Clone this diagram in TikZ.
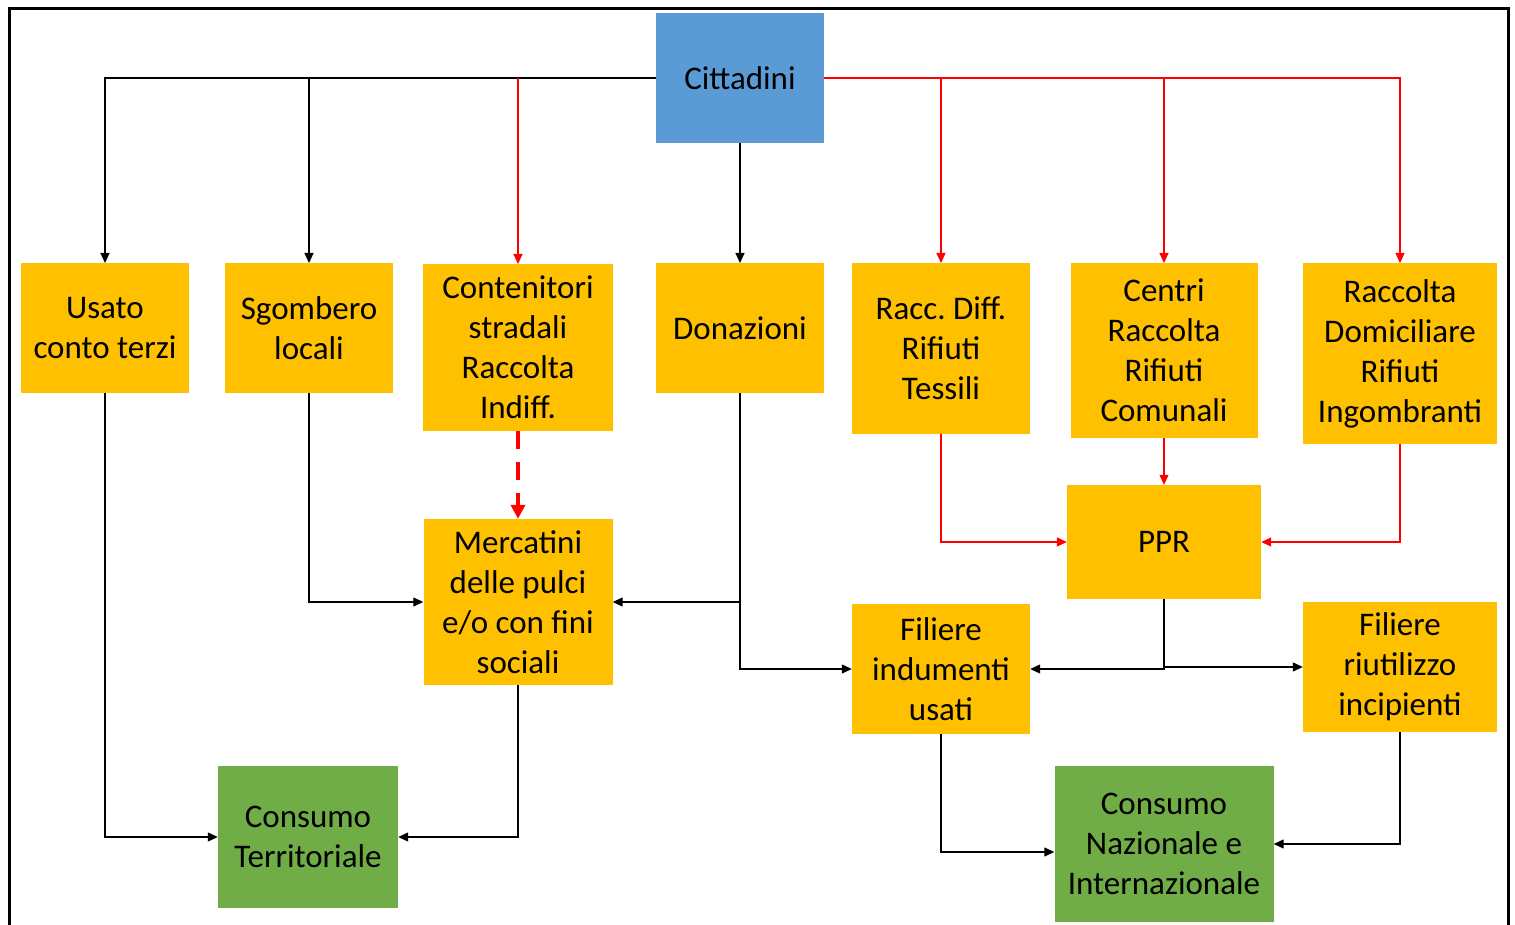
\documentclass[tikz,border=0pt]{standalone}
\usepackage{fontspec}
\setmainfont{Carlito}
\usetikzlibrary{arrows.meta}
\definecolor{boxorange}{HTML}{FFC000}
\definecolor{boxblue}{HTML}{5B9BD5}
\definecolor{boxgreen}{HTML}{70AD47}
\frenchspacing

\begin{document}
\begin{tikzpicture}[x=1pt, y=1pt, align=center, font=\fontsize{33}{40}\selectfont,
	box/.style={fill=boxorange, inner sep=0pt, minimum width=168pt, minimum height=130pt},
	bbox/.style={box, fill=boxblue},
	gbox/.style={box, fill=boxgreen},
	link/.style={line width=1.2pt, -{Triangle[length=10pt, width=9pt]}},
	rlink/.style={link, red},
	dlink/.style={red, line width=3.5pt, dash pattern=on 18pt off 13pt, -{Triangle[length=14pt, width=14pt]}}]
	\useasboundingbox (0,0) rectangle (1515,-925);
	\draw[line width=3pt] (9,-925) -- (9,-9) -- (1508,-9) -- (1508,-925);
	
	%nodes
	\node (cit)    [bbox] at (740,-78)                                                     {Cittadini};
	
	\node (usato)  [box, anchor=north] at (105,-263)                                       {Usato\\conto terzi};
	\node (sgomb)  [box, anchor=north] at (309,-263)                                       {Sgombero\\locali};
	\node (cont)   [box, anchor=north, minimum width=190pt, minimum height=167pt] at (518,-264)  {Contenitori\\stradali\\Raccolta\\Indiff.};
	\node (don)    [box, anchor=north] at (740,-263)                                       {Donazioni};
	\node (racc)   [box, anchor=north, minimum width=178pt, minimum height=171pt] at (941,-263)  {Racc. Diff.\\Rifiuti\\Tessili};
	\node (centri) [box, anchor=north, minimum width=187pt, minimum height=175pt] at (1164,-263) {Centri\\Raccolta\\Rifiuti\\Comunali};
	\node (domic)  [box, anchor=north, minimum width=194pt, minimum height=181pt] at (1400,-263) {Raccolta\\Domiciliare\\Rifiuti\\Ingombranti};
	
	\node (merc)   [box, minimum width=189pt, minimum height=166pt] at (518,-602)          {Mercatini\\delle pulci\\e/o con fini\\sociali};
	\node (ppr)    [box, minimum width=194pt, minimum height=114pt] at (1164,-542)         {PPR};
	\node (filind) [box, minimum width=178pt] at (941,-669)                                {Filiere\\indumenti\\usati};
	\node (filriu) [box, minimum width=194pt] at (1400,-667)                               {Filiere\\riutilizzo\\incipienti};
	
	\node (consT)  [gbox, minimum width=180pt, minimum height=142pt] at (308,-837)         {Consumo\\Territoriale};
	\node (consN)  [gbox, minimum width=219pt, minimum height=156pt] at (1164,-844)        {Consumo\\Nazionale e\\Internazionale};
	
	%links
	\draw[link]  (cit.west) -| (usato.north);
	\draw[link]  (cit.west -| sgomb.north) -- (sgomb.north);
	\draw[rlink] (cit.west -| cont.north) -- (cont.north);
	\draw[link]  (cit.south) -- (don.north);
	\draw[rlink] (cit.east) -| (domic.north);
	\draw[rlink] (cit.east -| racc.north) -- (racc.north);
	\draw[rlink] (cit.east -| centri.north) -- (centri.north);
	
	\draw[dlink] (cont.south) -- (merc.north);
	\draw[link]  (usato.south) |- (consT.west);
	\draw[link]  (sgomb.south) |- (merc.west);
	\draw[link]  (don.south) |- (merc.east);
	\draw[link]  (don.south) |- (filind.west);
	\draw[link]  (merc.south) |- (consT.east);
	
	\draw[rlink] (racc.south) |- (ppr.west);
	\draw[rlink] (centri.south) -- (ppr.north);
	\draw[rlink] (domic.south) |- (ppr.east);
	\draw[link]  (ppr.south) |- (filind.east);
	\draw[link]  (ppr.south) |- (filriu.west);
	\draw[link]  (filind.south) |- ([yshift=-8pt]consN.west);
	\draw[link]  (filriu.south) |- (consN.east);
\end{tikzpicture}
\end{document}
